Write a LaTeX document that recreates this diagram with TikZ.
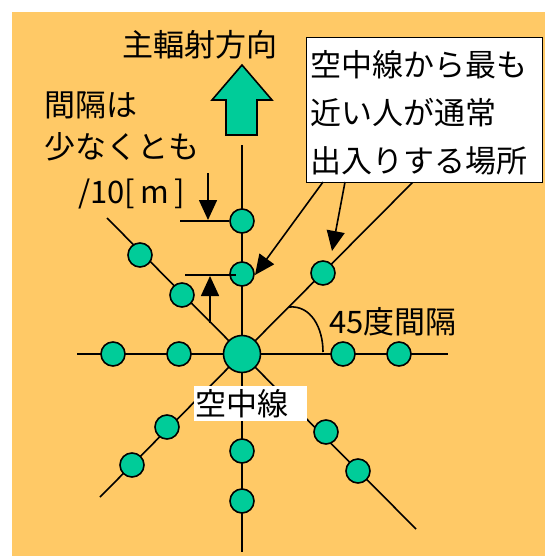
\documentclass[tikz,border=0pt]{standalone}
\usepackage{fontspec}
\setmainfont{Noto Sans CJK JP}
\usetikzlibrary{arrows.meta}
\definecolor{bgor}{HTML}{FFC966}
\definecolor{grn}{HTML}{00CC99}
\begin{document}
\begin{tikzpicture}[x=1pt,y=-1pt,
  spoke/.style={line width=1.6pt},
  dot/.style={circle,draw,line width=1.6pt,fill=grn,minimum size=24pt,inner sep=0pt},
  bigdot/.style={dot,minimum size=37pt},
  lbl/.style={anchor=base west,inner sep=0pt,font=\fontsize{31}{36}\selectfont},
  tipline/.style={-{Triangle[length=20pt,width=18pt]},line width=1.6pt},
  thin/.style={line width=1.6pt}
]
\useasboundingbox (0,0) rectangle (545,556);
\fill[white] (0,0) rectangle (545,556);
\fill[bgor] (12,12) rectangle (545,556);

% spokes
\coordinate (c) at (242,354);
\coordinate (eu) at (242,145);
\coordinate (ed) at (242,552);
\coordinate (el) at (77,354);
\coordinate (er) at (448,354);
\coordinate (eul) at (107,218);
\coordinate (eur) at (413,182);
\coordinate (ell) at (100,497);
\coordinate (elr) at (416,529);
\foreach \e in {eu,ed,el,er,eul,eur,ell,elr} \draw[spoke] (c) -- (\e);

% angle arc
\draw[thin] (289,307) .. controls (311,305) and (323,328) .. (323,352);

% circles
\node[dot] (u1) at (242,221) {};
\node[dot] (u2) at (242,274) {};
\node[dot] (d1) at (242,451) {};
\node[dot] (d2) at (242,501) {};
\node[dot] (l1) at (179,354) {};
\node[dot] (l2) at (113,354) {};
\node[dot] (r1) at (343,354) {};
\node[dot] (r2) at (399,354) {};
\node[dot] (ul1) at (182,295) {};
\node[dot] (ul2) at (140,255) {};
\node[dot] (ur1) at (323,273) {};
\node[dot] (ll1) at (167,427) {};
\node[dot] (ll2) at (132,465) {};
\node[dot] (lr1) at (326,432) {};
\node[dot] (lr2) at (358,471) {};
\node[bigdot] (ant) at (242,354) {};

% main radiation direction arrow
\draw[line width=1.6pt,fill=grn] (226,135) -- (226,100) -- (212,100) -- (242,65)
  -- (272,100) -- (257,100) -- (257,135) -- cycle;
\node[lbl] (tmain) at (122,57) {主輻射方向};

% spacing text
\node[lbl] (t1) at (44,117) {間隔は};
\node[lbl] (t2) at (44,158) {少なくとも};
\node[lbl] (t3) at (78,203) {/10[\,m\,]};

% dimension marks
\coordinate (k1a) at (180,221);
\coordinate (k1b) at (229,221);
\draw[thin] (k1a) -- (k1b);
\coordinate (k2a) at (185,275);
\coordinate (k2b) at (236,275);
\draw[thin] (k2a) -- (k2b);
\coordinate (a1s) at (208,173);
\draw[tipline] (a1s) -- (208,220);
\coordinate (a2s) at (210,323);
\draw[tipline] (a2s) -- (210,276);

% callout box
\node[draw,fill=white,line width=1.4pt,anchor=north west,minimum width=236pt,minimum height=145pt,inner sep=0pt] (box) at (306,37) {};
\node[lbl] (b1) at (310,77) {空中線から最も};
\node[lbl] (b2) at (310,125) {近い人が通常};
\node[lbl] (b3) at (310,172) {出入りする場所};
\coordinate (s1) at (323,182);
\coordinate (s2) at (345,182);
\draw[tipline] (s1) -- (255,275);
\draw[tipline] (s2) -- (332,251);

% labels
\node[lbl] (t45) at (329,333) {45度間隔};
\node[fill=white,anchor=north west,minimum width=113pt,minimum height=35pt,inner sep=0pt] (antbox) at (194,386) {};
\node[lbl] (tant) at (195,415) {空中線};
\end{tikzpicture}
\end{document}
